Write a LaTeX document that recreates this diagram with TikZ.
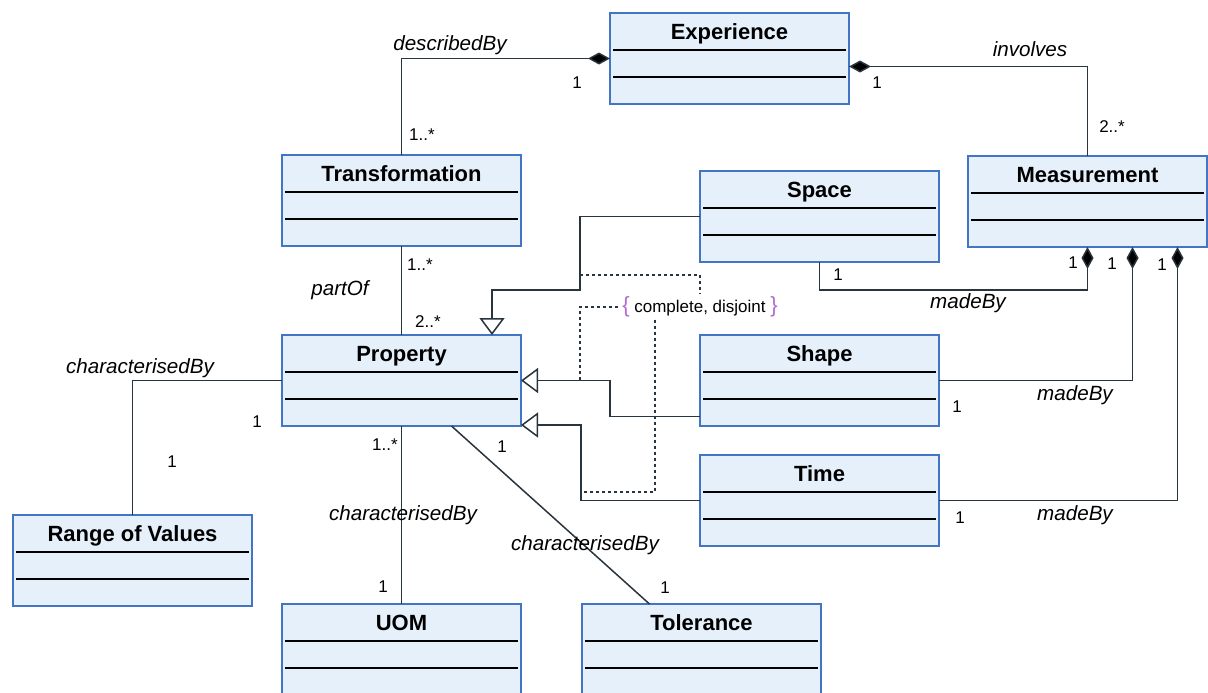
\documentclass[tikz,border=0pt]{standalone}
\usepackage{fontspec}
\setmainfont{Liberation Sans}
\usetikzlibrary{positioning, arrows.meta}

\definecolor{umlblue}{RGB}{66,118,196}
\definecolor{umlfill}{RGB}{230,240,251}
\definecolor{umlline}{RGB}{40,52,62}
\definecolor{umlbrace}{RGB}{178,108,210}

\tikzset{
  classbox/.style={draw=umlblue, line width=0.9pt, fill=umlfill, anchor=north west,
    minimum width=119.5pt, inner xsep=0pt, inner ysep=0pt, outer sep=0pt,
    text height=13pt, text depth=32.5pt, font=\fontsize{11}{13}\selectfont\bfseries,
    path picture={
      \draw[black, line width=0.6pt] ([xshift=1.5pt,yshift=-18.5pt]path picture bounding box.north west) -- ([xshift=-1.5pt,yshift=-18.5pt]path picture bounding box.north east);
      \draw[black, line width=0.6pt] ([xshift=1.5pt,yshift=-32pt]path picture bounding box.north west) -- ([xshift=-1.5pt,yshift=-32pt]path picture bounding box.north east);
    }},
  assoc/.style={draw=umlline, line width=0.75pt},
  comp/.style={assoc, -{Diamond[width=6pt,length=11pt,fill=black]}},
  gen/.style={assoc, -{Triangle[open,width=12.5pt,length=8.5pt]}},
  constr/.style={draw=umlline, line width=0.7pt, dash pattern=on 1.5pt off 1.5pt},
  role/.style={font=\fontsize{10.3}{12}\selectfont\itshape, inner sep=0pt},
  mult/.style={font=\fontsize{8.5}{10}\selectfont, inner sep=0pt}
}

\begin{document}
\begin{tikzpicture}[x=0.5pt, y=-0.5pt]
    \useasboundingbox (0,0) rectangle (1208,692);

    % Nodes
    \node[classbox] (exp) at (610,13) {Experience};
    \node[classbox] (trans) at (282,155) {Transformation};
    \node[classbox, below=44.5pt of trans] (prop) {Property};
    \node[classbox, below=89pt of prop] (uom) {UOM};
    \node[classbox, right=30.5pt of uom] (tol) {Tolerance};
    \node[classbox] (range) at (13,515) {Range of Values};
    \node[classbox] (space) at (700,171) {Space};
    \node[classbox, right=89.5pt of prop] (shape) {Shape};
    \node[classbox, below=14.5pt of shape] (time) {Time};
    \node[classbox] (meas) at (968,156) {Measurement};

    \node[font=\fontsize{8.5}{10}\selectfont, inner sep=1pt] (note) at (700,307)
        {\textcolor{umlbrace}{\fontsize{11}{12}\selectfont\{} complete, disjoint \textcolor{umlbrace}{\fontsize{11}{12}\selectfont\}}};
    \coordinate (cSpace) at (580,275);
    \coordinate (cShape) at (580,380);
    \coordinate (cTime) at (581,492);

    % Arrows
    \draw[comp] (trans.north) |- (exp.west);
    \draw[comp] (meas.north) |- ([yshift=-4pt]exp.east);
    \draw[assoc] (trans.south) -- (prop.north);
    \draw[gen] (space.west) -- ++(-120,0) -- ++(0,73.5) -| ([xshift=-14.5pt]prop.north east);
    \draw[gen] ([yshift=-18pt]shape.west) -- ++(-90,0) |- (prop.east);
    \draw[gen] (time.west) -- ++(-119,0) |- ([yshift=0.5pt]prop.south east);
    \draw[comp] (space.south) -- ++(0,28) -| (meas.south);
    \draw[comp] (shape.east) -| ([xshift=22.5pt]meas.south);
    \draw[comp] (time.east) -| ([xshift=45pt]meas.south);
    \draw[assoc] (prop.west) -| (range.north);
    \draw[assoc] (prop.south) -- (uom.north);
    \draw[assoc] ([xshift=25pt]prop.south) -- ([xshift=-26pt]tol.north);

    % Constraint
    \draw[constr] (cSpace) -| (note.north);
    \draw[constr] (cShape) |- (note.west);
    \draw[constr] ([xshift=-22.5pt]note.south) |- (cTime);

    % Labels
    \node[role] (lDescribed) at (450,45) {describedBy};
    \node[role] (lInvolves) at (1030,49) {involves};
    \node[role] (lPartOf) at (340,290) {partOf};
    \node[role] (lRange) at (140,368) {characterisedBy};
    \node[role] (lUom) at (403,515) {characterisedBy};
    \node[role] (lTol) at (585,545) {characterisedBy};
    \node[role] (lSpaceMade) at (968,303) {madeBy};
    \node[role] (lShapeMade) at (1075,395) {madeBy};
    \node[role] (lTimeMade) at (1075,515) {madeBy};

    % Multiplicities
    \foreach \x/\y/\txt [count=\i] in {577/83/1, 422/135/1..*, 877/83/1, 1112/127/2..*,
        420/265/1..*, 428/322/2..*, 838/275/1, 1073/263/1, 1112/264/1, 1162/265/1,
        957/407/1, 960/518/1, 257/422/1, 172/462/1, 385/445/1..*, 383/587/1,
        502/447/1, 665/588/1}
        \node[mult] (mult\i) at (\x,\y) {\txt};
\end{tikzpicture}
\end{document}
